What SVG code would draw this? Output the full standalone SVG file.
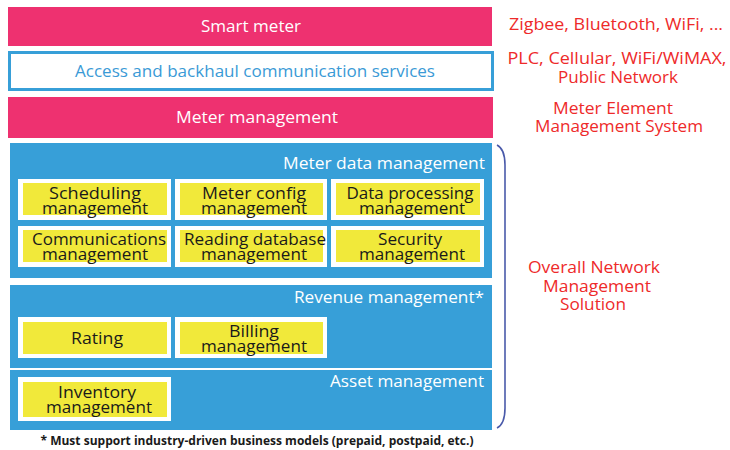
<svg xmlns="http://www.w3.org/2000/svg" width="730" height="450" viewBox="0 0 730 450">
<style>
text{font-family:"Open Sans","Noto Sans","Liberation Sans",sans-serif}
.pink{fill:#ee3170}
.blue{fill:#379fd8}
.wbox{fill:#ffffff}
.ybox{fill:#f1e93a}
.hdr{fill:#ffffff;font-size:17px;text-anchor:middle}
.lbl{fill:#1a1a1a;font-size:16px;text-anchor:middle}
.red{fill:#ee2a2a;font-size:16px;text-anchor:middle}
.sec{fill:#ffffff;font-size:16.5px;text-anchor:end}
</style>
<rect width="730" height="450" fill="#ffffff"/>
<g id="smart-meter">
<rect class="pink" x="8" y="7" width="484" height="39"/>
<text class="hdr" x="251" y="32" textLength="100" lengthAdjust="spacingAndGlyphs">Smart meter</text>
</g>
<g id="access">
<rect x="9.5" y="52.5" width="483" height="37" fill="#ffffff" stroke="#379fd8" stroke-width="3"/>
<text x="255" y="77" font-size="16.5" fill="#3a9ad6" text-anchor="middle" textLength="360" lengthAdjust="spacingAndGlyphs">Access and backhaul communication services</text>
</g>
<g id="meter-management">
<rect class="pink" x="8" y="97" width="485" height="41"/>
<text class="hdr" x="257" y="123" textLength="162" lengthAdjust="spacingAndGlyphs">Meter management</text>
</g>
<g id="mdm">
<rect class="blue" x="10" y="143" width="482" height="135"/>
<text class="sec" x="485" y="169" textLength="202" lengthAdjust="spacingAndGlyphs">Meter data management</text>
</g>
<g id="scheduling">
<rect class="wbox" x="18" y="179" width="153" height="41"/><rect class="ybox" x="23" y="183" width="144" height="32"/>
<text class="lbl"><tspan x="95" y="199" textLength="92" lengthAdjust="spacingAndGlyphs">Scheduling</tspan><tspan x="95" y="214" textLength="106" lengthAdjust="spacingAndGlyphs">management</tspan></text>
</g>
<g id="meter-config">
<rect class="wbox" x="175" y="179" width="152" height="41"/><rect class="ybox" x="180" y="183" width="143" height="32"/>
<text class="lbl"><tspan x="254" y="199" textLength="104" lengthAdjust="spacingAndGlyphs">Meter config</tspan><tspan x="254" y="214" textLength="106" lengthAdjust="spacingAndGlyphs">management</tspan></text>
</g>
<g id="data-processing">
<rect class="wbox" x="331" y="179" width="153" height="41"/><rect class="ybox" x="336" y="183" width="144" height="32"/>
<text class="lbl"><tspan x="410" y="199" textLength="127" lengthAdjust="spacingAndGlyphs">Data processing</tspan><tspan x="412" y="214" textLength="106" lengthAdjust="spacingAndGlyphs">management</tspan></text>
</g>
<g id="communications">
<rect class="wbox" x="18" y="226" width="153" height="41"/><rect class="ybox" x="23" y="230" width="144" height="32"/>
<text class="lbl"><tspan x="99" y="245" textLength="134" lengthAdjust="spacingAndGlyphs">Communications</tspan><tspan x="95" y="260" textLength="106" lengthAdjust="spacingAndGlyphs">management</tspan></text>
</g>
<g id="reading-db">
<rect class="wbox" x="175" y="226" width="152" height="41"/><rect class="ybox" x="180" y="230" width="143" height="32"/>
<text class="lbl"><tspan x="255" y="245" textLength="142" lengthAdjust="spacingAndGlyphs">Reading database</tspan><tspan x="254" y="260" textLength="106" lengthAdjust="spacingAndGlyphs">management</tspan></text>
</g>
<g id="security">
<rect class="wbox" x="331" y="226" width="153" height="41"/><rect class="ybox" x="336" y="230" width="144" height="32"/>
<text class="lbl"><tspan x="410" y="245" textLength="64" lengthAdjust="spacingAndGlyphs">Security</tspan><tspan x="412" y="260" textLength="106" lengthAdjust="spacingAndGlyphs">management</tspan></text>
</g>
<g id="revenue">
<rect class="blue" x="10" y="285" width="482" height="83"/>
<text class="sec" x="484" y="303" textLength="190" lengthAdjust="spacingAndGlyphs">Revenue management*</text>
</g>
<g id="rating">
<rect class="wbox" x="18" y="317" width="153" height="41"/><rect class="ybox" x="23" y="322" width="144" height="32"/>
<text class="lbl" x="97" y="344" textLength="52" lengthAdjust="spacingAndGlyphs">Rating</text>
</g>
<g id="billing">
<rect class="wbox" x="175" y="317" width="152" height="41"/><rect class="ybox" x="180" y="322" width="143" height="32"/>
<text class="lbl"><tspan x="254" y="337" textLength="50" lengthAdjust="spacingAndGlyphs">Billing</tspan><tspan x="254" y="352" textLength="106" lengthAdjust="spacingAndGlyphs">management</tspan></text>
</g>
<g id="asset">
<rect class="blue" x="10" y="370" width="482" height="60"/>
<text class="sec" x="484" y="387" textLength="154" lengthAdjust="spacingAndGlyphs">Asset management</text>
</g>
<g id="inventory">
<rect class="wbox" x="18" y="377" width="153" height="44"/><rect class="ybox" x="23" y="382" width="144" height="35"/>
<text class="lbl"><tspan x="97" y="398" textLength="78" lengthAdjust="spacingAndGlyphs">Inventory</tspan><tspan x="99" y="413" textLength="106" lengthAdjust="spacingAndGlyphs">management</tspan></text>
</g>
<g id="footnote">
<text x="257" y="445" font-size="11.5" font-weight="bold" fill="#1a1a1a" text-anchor="middle" textLength="433" lengthAdjust="spacingAndGlyphs">* Must support industry-driven business models (prepaid, postpaid, etc.)</text>
</g>
<g id="labels">
<text class="red" x="616" y="30" textLength="214" lengthAdjust="spacingAndGlyphs">Zigbee, Bluetooth, WiFi, ...</text>
<text class="red"><tspan x="617" y="64" textLength="219" lengthAdjust="spacingAndGlyphs">PLC, Cellular, WiFi/WiMAX,</tspan><tspan x="618" y="83" textLength="120" lengthAdjust="spacingAndGlyphs">Public Network</tspan></text>
<text class="red"><tspan x="613" y="114" textLength="120" lengthAdjust="spacingAndGlyphs">Meter Element</tspan><tspan x="619" y="132" textLength="168" lengthAdjust="spacingAndGlyphs">Management System</tspan></text>
<text class="red"><tspan x="594" y="273" textLength="132" lengthAdjust="spacingAndGlyphs">Overall Network</tspan><tspan x="597" y="292" textLength="108" lengthAdjust="spacingAndGlyphs">Management</tspan><tspan x="593" y="310" textLength="66" lengthAdjust="spacingAndGlyphs">Solution</tspan></text>
</g>
<g id="connectors">
<path d="M497,145 Q505,149 505,165 L505,408 Q505,424 497,428" fill="none" stroke="#4a5aaa" stroke-width="1.6"/>
</g>
</svg>
